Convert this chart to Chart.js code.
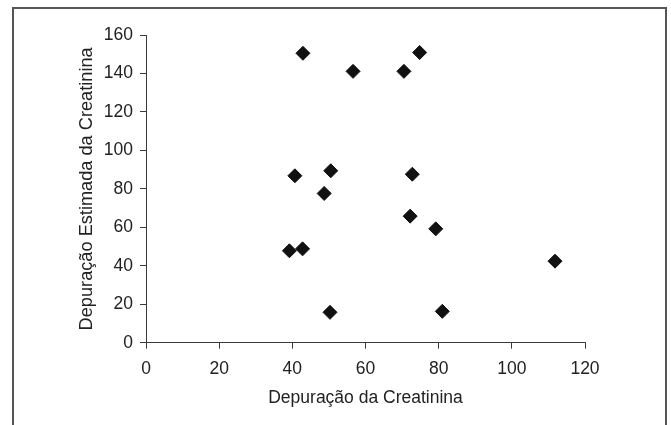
<!DOCTYPE html>
<html>
<head>
<meta charset="utf-8">
<script src="https://cdn.jsdelivr.net/npm/chart.js@4"></script>
<style>
  html, body { margin: 0; padding: 0; background: #fff; overflow: hidden; }
  #wrap { position: relative; width: 671px; height: 425px; }
  #frame { position: absolute; left: 12px; top: 7px; width: 651px; height: 500px; border: 2px solid #555; pointer-events: none; box-sizing: content-box; }
  canvas { position: absolute; left: 0; top: 0; }
</style>
</head>
<body>
<div id="wrap">
  <canvas id="c" width="671" height="425"></canvas>
  <div id="frame"></div>
</div>
<script>
const depuracao = [42.9, 56.6, 70.5, 74.8, 40.7, 50.5, 48.7, 72.8, 39.2, 42.8, 72.2, 79.2, 50.3, 81.0, 111.8];
const depuracaoEstimada = [150.5, 141.1, 141.1, 150.9, 86.8, 89.4, 77.6, 87.6, 47.8, 48.8, 65.8, 59.2, 15.8, 16.3, 42.4];
const xTitle = 'Depuração da Creatinina';
const yTitle = 'Depuração Estimada da Creatinina';
const xRange = [0, 120, 20];
const yRange = [0, 160, 20];

const points = depuracao.map((x, i) => ({ x: x, y: depuracaoEstimada[i] }));
const axisColor = '#3a3a3a';
const textColor = '#222';
const fam = '"Liberation Sans", Arial, sans-serif';
const font = { family: fam, size: 17.5 };
const yTitleFont = { family: fam, size: 18.2 };

new Chart(document.getElementById('c'), {
  type: 'scatter',
  data: {
    datasets: [{
      data: points,
      pointStyle: 'rectRot',
      pointRadius: 7,
      pointHoverRadius: 7,
      backgroundColor: '#111',
      borderColor: '#111',
      borderWidth: 1
    }]
  },
  options: {
    responsive: false,
    animation: false,
    events: [],
    layout: { padding: { left: 0, right: 86, top: 35, bottom: 0 } },
    plugins: { legend: { display: false }, tooltip: { enabled: false } },
    scales: {
      x: {
        type: 'linear',
        min: xRange[0], max: xRange[1],
        ticks: { stepSize: xRange[2], color: textColor, font: font, padding: 10, maxRotation: 0 },
        grid: { display: true, drawOnChartArea: false, drawTicks: true, tickLength: 6, color: axisColor, lineWidth: 1 },
        border: { display: true, color: axisColor, width: 1 },
        title: { display: true, text: xTitle, color: textColor, font: font, padding: { top: 0, bottom: 16.5 } },
        afterFit: (s) => { s.height = 82.3; }
      },
      y: {
        type: 'linear',
        min: yRange[0], max: yRange[1],
        ticks: { stepSize: yRange[2], color: textColor, font: font, padding: 7 },
        grid: { display: true, drawOnChartArea: false, drawTicks: true, tickLength: 6, color: axisColor, lineWidth: 1 },
        border: { display: true, color: axisColor, width: 1 },
        title: { display: true, text: yTitle, color: textColor, font: yTitleFont, padding: { top: 76, bottom: 0 } },
        afterFit: (s) => { s.width = 146; }
      }
    }
  }
});
</script>
</body>
</html>
